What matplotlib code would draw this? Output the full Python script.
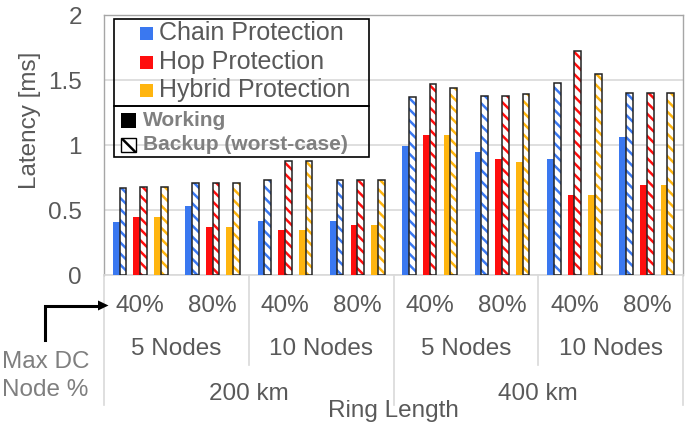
import matplotlib
matplotlib.use("Agg")
import matplotlib.pyplot as plt
import numpy as np
from matplotlib.transforms import Affine2D, blended_transform_factory
from matplotlib.patches import Rectangle, Polygon
from matplotlib.lines import Line2D

plt.rcParams['font.family'] = ['Liberation Sans', 'DejaVu Sans']
plt.rcParams['hatch.linewidth'] = 1.8

# ---- data ----
pct_labels = ['40%', '80%', '40%', '80%', '40%', '80%', '40%', '80%']
node_labels = ['5 Nodes', '10 Nodes', '5 Nodes', '10 Nodes']
ring_labels = ['200 km', '400 km']
series_names = ['Chain Protection', 'Hop Protection', 'Hybrid Protection']

chain_work = [0.41, 0.53, 0.42, 0.42, 0.99, 0.95, 0.89, 1.06]
chain_backup = [0.67, 0.71, 0.73, 0.73, 1.37, 1.38, 1.48, 1.40]
hop_work = [0.45, 0.37, 0.35, 0.39, 1.08, 0.89, 0.62, 0.69]
hop_backup = [0.68, 0.71, 0.88, 0.73, 1.47, 1.38, 1.72, 1.40]
hybrid_work = [0.45, 0.37, 0.35, 0.39, 1.08, 0.87, 0.62, 0.69]
hybrid_backup = [0.68, 0.71, 0.88, 0.73, 1.44, 1.39, 1.55, 1.40]

colors = ['#3A78F0', '#FF0E0E', '#FFB50F']
TXT = '#595959'
W, H = 685, 429

fig = plt.figure(figsize=(W / 100, H / 100), dpi=100)
pix = Affine2D().scale(1 / W, -1 / H).translate(0, 1) + fig.transFigure

ax_l, ax_r, ax_t, ax_b = 104, 683, 15, 275.3
ax = fig.add_axes([ax_l / W, 1 - ax_b / H, (ax_r - ax_l) / W, (ax_b - ax_t) / H])

n = len(pct_labels)
centers = np.arange(n) + 0.5
bw = 0.094
offs = [-0.285, 0.0, 0.285]
works = [chain_work, hop_work, hybrid_work]
backs = [chain_backup, hop_backup, hybrid_backup]
for k in range(3):
    xw = centers + offs[k] - bw / 2
    xb = centers + offs[k] + bw / 2
    ax.bar(xw, works[k], bw, color=colors[k], linewidth=0, zorder=3)
    ax.bar(xb, backs[k], bw, facecolor='white', edgecolor=colors[k],
           hatch='\\\\\\', linewidth=0, zorder=3)
    ax.bar(xb, backs[k], bw, fill=False, edgecolor='#222222',
           linewidth=1.1, zorder=4)

ax.set_xlim(0, n)
ax.set_ylim(0, 2)
ax.set_yticks([0, 0.5, 1, 1.5, 2])
ax.set_yticklabels(['0', '0.5', '1', '1.5', '2'])
ax.tick_params(axis='y', length=0, pad=16, labelsize=17.5, labelcolor=TXT)
ax.set_xticks([])
ax.grid(axis='y', color='#D9D9D9', linewidth=1.2, zorder=0)
ax.set_axisbelow(True)
for s in ['top', 'right', 'left']:
    ax.spines[s].set_color('#A6A6A6')
    ax.spines[s].set_linewidth(1.0)
ax.spines['bottom'].set_color('#D9D9D9')
ax.spines['bottom'].set_linewidth(1.2)

fig.text(30 / W, 1 - 120 / H, 'Latency [ms]', rotation=90, ha='center',
         va='center', fontsize=17.5, color=TXT)

# ---- multi-level category axis ----
bt = blended_transform_factory(ax.transData, pix)
for i, lab in enumerate(pct_labels):
    ax.text(centers[i], 306, lab, transform=bt, ha='center', va='center',
            fontsize=17.5, color=TXT, clip_on=False)
for j, lab in enumerate(node_labels):
    ax.text(2 * j + 1, 349, lab, transform=bt, ha='center', va='center',
            fontsize=17.5, color=TXT, clip_on=False)
for j, lab in enumerate(ring_labels):
    ax.text(4 * j + 2, 394, lab, transform=bt, ha='center', va='center',
            fontsize=17.5, color=TXT, clip_on=False)
ax.text(n / 2, 411, 'Ring Length', transform=bt, ha='center', va='center',
        fontsize=17.5, color=TXT, clip_on=False)

for xv in [0, 4, 8]:
    ax.add_line(Line2D([xv, xv], [ax_b, 405], transform=bt, color='#D9D9D9',
                       lw=1.2, clip_on=False))
for xv in [2, 6]:
    ax.add_line(Line2D([xv, xv], [ax_b, 365], transform=bt, color='#D9D9D9',
                       lw=1.2, clip_on=False))

# ---- Max DC Node % label and arrow ----
fig.text(2 / W, 1 - 362 / H, 'Max DC', ha='left', va='center', fontsize=17.5,
         color='#7F7F7F')
fig.text(2 / W, 1 - 390 / H, 'Node %', ha='left', va='center', fontsize=17.5,
         color='#7F7F7F')
fig.add_artist(Line2D([45, 45, 99], [340, 305.5, 305.5], transform=pix,
                      color='black', lw=2.2, solid_joinstyle='miter'))
fig.add_artist(Polygon([(98, 300.5), (108.5, 305.5), (98, 310.5)], closed=True,
                       transform=pix, facecolor='black', edgecolor='none'))

# ---- legends (two boxes) ----
fig.add_artist(Rectangle((114, 18.7), 255, 87.3, transform=pix, fill=False,
                         edgecolor='black', lw=1.2))
fig.add_artist(Rectangle((114, 106), 255, 51, transform=pix, fill=False,
                         edgecolor='black', lw=1.2))
for k, (name, yc) in enumerate(zip(series_names, [33, 62, 90])):
    fig.add_artist(Rectangle((140, yc - 6.5), 13, 13, transform=pix,
                             facecolor=colors[k], edgecolor='none'))
    fig.text(159 / W, 1 - yc / H, name, ha='left', va='center',
             fontsize=18, color=TXT)
fig.add_artist(Rectangle((121, 113), 15, 15, transform=pix,
                         facecolor='black', edgecolor='none'))
fig.text(142.7 / W, 1 - 120 / H, 'Working', ha='left', va='center',
         fontsize=15, fontweight='bold', color='#808080')
fig.add_artist(Rectangle((121, 138), 15, 14, transform=pix,
                         facecolor='white', edgecolor='black', hatch='\\\\',
                         lw=1.0))
fig.text(142.7 / W, 1 - 145 / H, 'Backup (worst-case)', ha='left',
         va='center', fontsize=15, fontweight='bold', color='#808080')

fig.savefig('out.png', dpi=100)
